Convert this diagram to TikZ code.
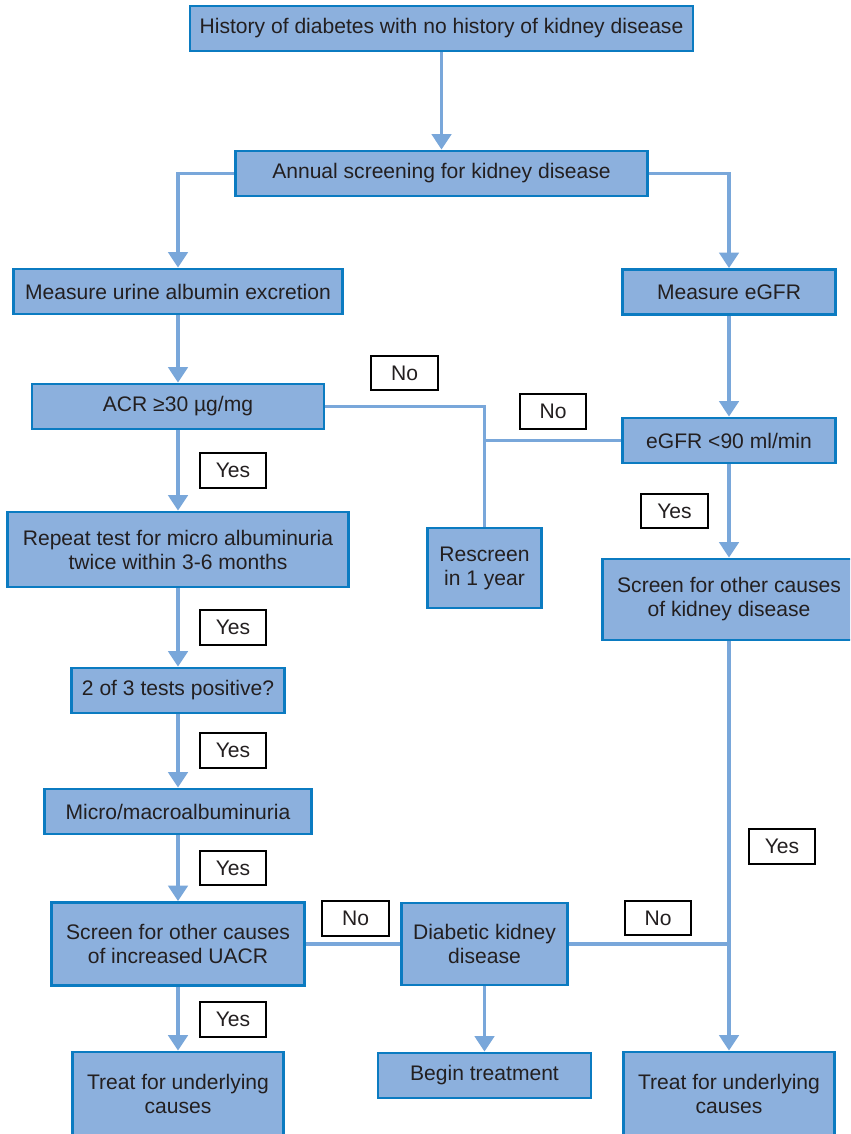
\documentclass[tikz,border=0pt]{standalone}
\usepackage{fontspec}
\setmainfont{Liberation Sans}
\usetikzlibrary{arrows.meta}
\definecolor{boxfill}{HTML}{8CB0DD}
\definecolor{boxline}{HTML}{0B7BC1}
\definecolor{conn}{HTML}{79A7DA}
\definecolor{txt}{HTML}{231F20}
\begin{document}
\begin{tikzpicture}[x=0.75pt,y=-0.75pt,
  bx/.style 2 args={draw=boxline, fill=boxfill, line width=2.2pt,
    minimum width=#1*0.75pt, minimum height=#2*0.75pt, inner sep=0pt,
    align=center, text=txt, font=\fontsize{15.8}{18}\selectfont},
  lbl/.style={draw=black, fill=white, line width=1.6pt,
    minimum width=50pt, minimum height=26pt, inner sep=0pt,
    text=txt, font=\fontsize{15.8}{18}\selectfont},
  ln/.style={draw=conn, line width=2.4pt},
  arr/.style={ln, -{Triangle[width=14.5pt,length=11.5pt]}}]
\clip (0,0) rectangle (850,1134);
\fill[white] (0,0) rectangle (850,1134);
% boxes
\node[bx={503}{45}] (hist) at (441.5,28.5) {History of diabetes with no history of kidney disease};
\node[bx={412}{45}] (annual) at (441.5,173.5) {Annual screening for kidney disease};
\node[bx={329}{45}] (urine) at (178,291.5) {Measure urine albumin excretion};
\node[bx={213}{45}] (egfrm) at (729,292) {Measure eGFR};
\node[bx={292}{45}] (acr) at (178,406.5) {ACR ≥30 µg/mg};
\node[bx={213}{45}] (egfr) at (729,440.5) {eGFR <90 ml/min};
\node[bx={114}{80}] (rescreen) at (484.5,568) {Rescreen\\in 1 year};
\node[bx={341}{75}] (repeat) at (178,549.5) {Repeat test for micro albuminuria\\twice within 3-6 months};
\node[bx={253}{81}] (screenk) at (729,599.5) {Screen for other causes\\of kidney disease};
\node[bx={213}{45}] (two) at (178,690.5) {2 of 3 tests positive?};
\node[bx={267}{45}] (micro) at (178,811.5) {Micro/macroalbuminuria};
\node[bx={253}{83}] (uacr) at (178,944) {Screen for other causes\\of increased UACR};
\node[bx={166}{82}] (dkd) at (484.5,944) {Diabetic kidney\\disease};
\node[bx={211}{84}] (treatl) at (178,1094) {Treat for underlying\\causes};
\node[bx={213}{45}] (begin) at (484.5,1075.5) {Begin treatment};
\node[bx={211}{84}] (treatr) at (729,1094) {Treat for underlying\\causes};
% connectors
\draw[arr] (hist) -- (annual);
\draw[arr] (annual.west) -| (urine.north);
\draw[arr] (annual.east) -| (egfrm.north);
\draw[arr] (urine) -- (acr);
\draw[arr] (egfrm) -- (egfr);
\draw[ln] (acr.east) -| (rescreen.north);
\draw[ln] (egfr.west) -- (egfr.west -| rescreen.north);
\draw[arr] (acr) -- (repeat);
\draw[arr] (egfr) -- (screenk);
\draw[arr] (repeat) -- (two);
\draw[arr] (two) -- (micro);
\draw[arr] (micro) -- (uacr);
\draw[ln] (uacr.east) -- (dkd.west);
\draw[arr] (screenk) -- (treatr);
\draw[ln] (dkd.east) -- (dkd.east -| treatr.north);
\draw[arr] (dkd) -- (begin);
\draw[arr] (uacr) -- (treatl);
% labels
\node[lbl] (y1) at (233,470.5) {Yes};
\node[lbl] (y2) at (233,627.5) {Yes};
\node[lbl] (y3) at (233,750.5) {Yes};
\node[lbl] (y4) at (233,868) {Yes};
\node[lbl] (y5) at (233,1019.5) {Yes};
\node[lbl] (n1) at (404.5,373) {No};
\node[lbl] (n2) at (553,411.5) {No};
\node[lbl] (ye) at (674.5,511) {Yes};
\node[lbl] (yr) at (782,846.5) {Yes};
\node[lbl] (n3) at (355.5,918.5) {No};
\node[lbl] (n4) at (658,918) {No};
\end{tikzpicture}
\end{document}
